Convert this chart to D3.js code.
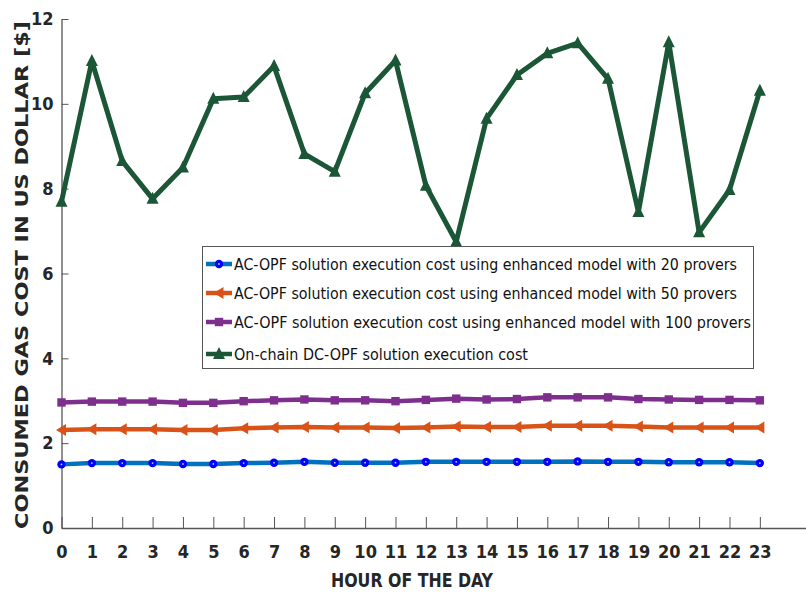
<!DOCTYPE html>
<html><head><meta charset="utf-8">
<script src="https://cdn.jsdelivr.net/npm/d3@7"></script>
<style>body{margin:0;background:#fff}svg{display:block}</style>
</head><body><svg id="c" width="806" height="594"></svg>
<script>
const hours = d3.range(0, 24);
const xTicks = d3.range(0, 24);
const yTicks = [0, 2, 4, 6, 8, 10, 12];
const prov20 = [1.50,1.53,1.53,1.53,1.51,1.51,1.53,1.54,1.56,1.54,1.54,1.54,1.56,1.56,1.56,1.56,1.56,1.57,1.56,1.56,1.55,1.55,1.55,1.53];
const prov50 = [2.31,2.33,2.33,2.33,2.31,2.31,2.35,2.37,2.38,2.37,2.37,2.36,2.37,2.39,2.38,2.38,2.41,2.41,2.41,2.39,2.37,2.37,2.37,2.37];
const prov100 = [2.96,2.98,2.98,2.98,2.95,2.95,2.99,3.01,3.03,3.01,3.01,2.99,3.02,3.05,3.03,3.04,3.08,3.08,3.08,3.04,3.03,3.02,3.02,3.01];
const dcopf = [7.69,11.01,8.65,7.76,8.50,10.12,10.16,10.89,8.82,8.40,10.25,11.02,8.07,6.75,9.65,10.68,11.19,11.43,10.59,7.45,11.45,6.97,7.97,10.31];
const seriesNames = [
  "AC-OPF solution execution cost using enhanced model with 20 provers",
  "AC-OPF solution execution cost using enhanced model with 50 provers",
  "AC-OPF solution execution cost using enhanced model with 100 provers",
  "On-chain DC-OPF solution execution cost"
];
const lineColors = ["#0072BD", "#D95319", "#7E2F8E", "#1B5636"];
const markerColors = ["#0000FF", "#D95319", "#7E2F8E", "#1B5636"];
const markerTypes = ["circle", "left", "square", "up"];
const allSeries = [prov20, prov50, prov100, dcopf];

const svg = d3.select("#c");
const x = d3.scaleLinear().domain([0, 24.52]).range([61.5, 806]);
const y = d3.scaleLinear().domain([0, 12]).range([528, 19]);
const tickFont = "'Liberation Sans Narrow','DejaVu Sans Condensed',sans-serif";

// axes
const xAxis = svg.append("g").attr("transform", `translate(0,${y(0)})`)
  .call(d3.axisBottom(x).tickValues(xTicks).tickSizeInner(-11).tickSizeOuter(0).tickPadding(14).tickFormat(d3.format("d")));
const yAxis = svg.append("g").attr("transform", `translate(${x(0)},0)`)
  .call(d3.axisLeft(y).tickValues(yTicks).tickSizeInner(-7).tickSizeOuter(0).tickPadding(8).tickFormat(d3.format("d")));
[xAxis, yAxis].forEach(a => {
  a.select(".domain").attr("stroke", "#555").attr("stroke-width", 1.3);
  a.selectAll(".tick line").attr("stroke", "#555").attr("stroke-width", 1);
  a.selectAll(".tick text").attr("fill", "#262626").attr("font-family", tickFont)
    .attr("font-weight", "bold").attr("font-size", 18);
});
xAxis.selectAll(".tick text").attr("dy", "0.35em").attr("y", 24);

// lines
const line = d3.line().x((d, i) => x(hours[i])).y(d => y(d));
allSeries.forEach((s, k) => {
  svg.append("path").datum(s).attr("d", line).attr("fill", "none")
    .attr("stroke", lineColors[k]).attr("stroke-width", k === 3 ? 5 : 4.5)
    .attr("stroke-linejoin", "round");
});

function marker(g, type, cx, cy, col, sz) {
  if (type === "circle") {
    g.append("circle").attr("cx", cx).attr("cy", cy).attr("r", 4.2).attr("fill", col);
    g.append("circle").attr("cx", cx).attr("cy", cy).attr("r", 0.9).attr("fill", "#bcd");
  } else if (type === "square") {
    g.append("rect").attr("x", cx - 4.2).attr("y", cy - 4.2).attr("width", 8.4).attr("height", 8.4).attr("fill", col);
  } else if (type === "left") {
    g.append("path").attr("d", `M${cx-5.5},${cy} L${cx+4.5},${cy-6} L${cx+4.5},${cy+6} Z`).attr("fill", col);
  } else if (type === "up") {
    g.append("path").attr("d", `M${cx},${cy-7} L${cx+6},${cy+5} L${cx-6},${cy+5} Z`).attr("fill", col);
  }
}
allSeries.forEach((s, k) => {
  const g = svg.append("g");
  s.forEach((v, i) => marker(g, markerTypes[k], x(hours[i]), y(v), markerColors[k]));
});

// legend
const lg = svg.append("g");
lg.append("rect").attr("x", 202.5).attr("y", 246.5).attr("width", 551).attr("height", 122)
  .attr("fill", "#fff").attr("stroke", "#555").attr("stroke-width", 1);
const rowY = [264, 293, 322, 354];
seriesNames.forEach((n, k) => {
  lg.append("line").attr("x1", 206).attr("x2", 232).attr("y1", rowY[k]).attr("y2", rowY[k])
    .attr("stroke", lineColors[k]).attr("stroke-width", 4.5);
  marker(lg, markerTypes[k], 219, rowY[k], markerColors[k]);
  const t = lg.append("text").attr("x", 234).attr("y", rowY[k]).attr("dy", "0.36em")
    .attr("font-family", "'DejaVu Sans Condensed','DejaVu Sans',sans-serif").attr("font-size", 16)
    .attr("fill", "#111").text(n);
  const lens = [503, 503, 517, 294];
  t.attr("textLength", lens[k]).attr("lengthAdjust", "spacingAndGlyphs");
});

// axis labels
svg.append("text").attr("x", 412).attr("y", 580).attr("dy", "0.35em").attr("text-anchor", "middle")
  .attr("font-family", tickFont).attr("font-weight", "bold").attr("font-size", 19).attr("fill", "#262626")
  .attr("textLength", 162).attr("lengthAdjust", "spacingAndGlyphs").text("HOUR OF THE DAY");
svg.append("text").attr("transform", "translate(22,275) rotate(-90)").attr("dy", "0.35em")
  .attr("text-anchor", "middle").attr("font-family", "'DejaVu Sans',sans-serif").attr("font-weight", "bold")
  .attr("font-size", 17).attr("fill", "#262626").attr("textLength", 508).attr("lengthAdjust", "spacingAndGlyphs")
  .text("CONSUMED GAS COST IN US DOLLAR [$]");
</script></body></html>
